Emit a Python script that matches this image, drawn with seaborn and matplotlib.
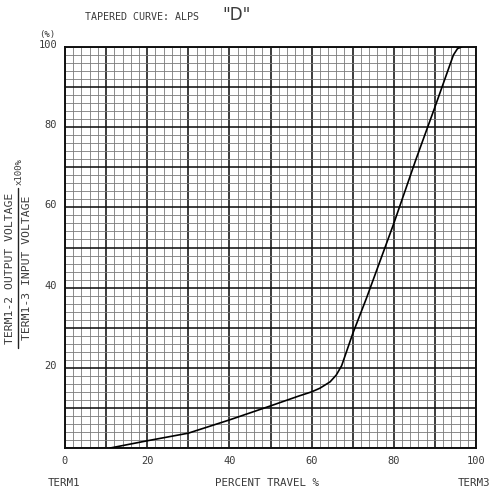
import matplotlib
matplotlib.use("Agg")
import matplotlib.pyplot as plt
from matplotlib.ticker import MultipleLocator
from matplotlib.lines import Line2D
import seaborn as sns
import pandas as pd

# ---- data ----
travel = [11, 20, 30, 40, 50, 57, 60, 62, 64.5, 66, 67.3, 70, 73.4, 80, 85.4, 90, 94.5, 95.5, 96.5]
ratio = [0, 1.8, 3.7, 7, 10.5, 13, 14, 14.9, 16.5, 18.2, 20.5, 28.5, 37.5, 56, 72, 85, 98, 99.6, 100]
x_tick_values = [0, 20, 40, 60, 80, 100]
x_tick_labels = ["0", "20", "40", "60", "80", "100"]
y_tick_values = [20, 40, 60, 80, 100]
y_tick_labels = ["20", "40", "60", "80", "100"]
title_text = "TAPERED CURVE: ALPS"
title_mark = '"D"'
y_label_top = "TERM1-2 OUTPUT VOLTAGE"
y_label_bottom = "TERM1-3 INPUT VOLTAGE"
y_label_scale = "x100%"
x_label = "PERCENT TRAVEL %"
left_term = "TERM1"
right_term = "TERM3"
unit_text = "(%)"

df = pd.DataFrame({"travel": travel, "ratio": ratio})

sns.set_style("white")
plt.rcParams["font.family"] = ["DejaVu Sans Mono", "DejaVu Sans"]

W = H = 496
fig = plt.figure(figsize=(4.96, 4.96), dpi=100)
fig.patch.set_facecolor("white")

def fx(px):
    return px / W

def fy(py):
    return 1 - py / H

ax = fig.add_axes([fx(65), fy(448), fx(476) - fx(65), fy(47) - fy(448)])

sns.lineplot(data=df, x="travel", y="ratio", ax=ax, color="black", linewidth=1.2, zorder=5)

ax.set_xlim(0, 100)
ax.set_ylim(0, 100)

text_color = "#3a3a3a"

# major grid every 10, minor every 2
ax.xaxis.set_major_locator(MultipleLocator(10))
ax.yaxis.set_major_locator(MultipleLocator(10))
ax.xaxis.set_minor_locator(MultipleLocator(2))
ax.yaxis.set_minor_locator(MultipleLocator(2))
ax.grid(which="major", color="#111111", linewidth=1.15, zorder=2)
ax.grid(which="minor", color="#7a7a7a", linewidth=0.6, zorder=1)
ax.set_axisbelow(True)
ax.tick_params(which="both", length=0)
ax.set_xticklabels([])
ax.set_yticklabels([])
ax.set_xlabel("")
ax.set_ylabel("")
for s in ax.spines.values():
    s.set_visible(True)
    s.set_color("#111111")
    s.set_linewidth(1.4)

# tick labels placed at data positions
for v, lab in zip(x_tick_values, x_tick_labels):
    ax.annotate(lab, xy=(v, 0), xycoords="data", xytext=(0, -13), textcoords="offset pixels",
                ha="center", va="center", fontsize=7.5, color=text_color)
for v, lab in zip(y_tick_values, y_tick_labels):
    ax.annotate(lab, xy=(0, v), xycoords="data", xytext=(-8, 2), textcoords="offset pixels",
                ha="right", va="center", fontsize=7.5, color=text_color)

# title
fig.text(fx(85), fy(17), title_text, ha="left", va="center", fontsize=7.2, color=text_color)
fig.text(fx(237), fy(15), title_mark, ha="center", va="center", fontsize=12,
         color=text_color, family="DejaVu Sans")

# unit
fig.text(fx(47), fy(34), unit_text, ha="center", va="center", fontsize=6.5, color=text_color)

# y label as a fraction
fig.text(fx(10), fy(268), y_label_top, rotation=90, ha="center", va="center",
         fontsize=8.2, color=text_color)
fig.text(fx(27), fy(268), y_label_bottom, rotation=90, ha="center", va="center",
         fontsize=8.2, color=text_color)
fig.add_artist(Line2D([fx(18), fx(18)], [fy(188), fy(348)], transform=fig.transFigure,
                      color="#222222", linewidth=1.0))
fig.text(fx(19), fy(172), y_label_scale, rotation=90, ha="center", va="center",
         fontsize=6.5, color=text_color)

# x label and terminals
fig.text(fx(267), fy(483), x_label, ha="center", va="center", fontsize=7.8, color=text_color)
fig.text(fx(64), fy(483), left_term, ha="center", va="center", fontsize=7.8, color=text_color)
fig.text(fx(490), fy(483), right_term, ha="right", va="center", fontsize=7.8, color=text_color)

fig.savefig("out.png", dpi=100, facecolor="white")
